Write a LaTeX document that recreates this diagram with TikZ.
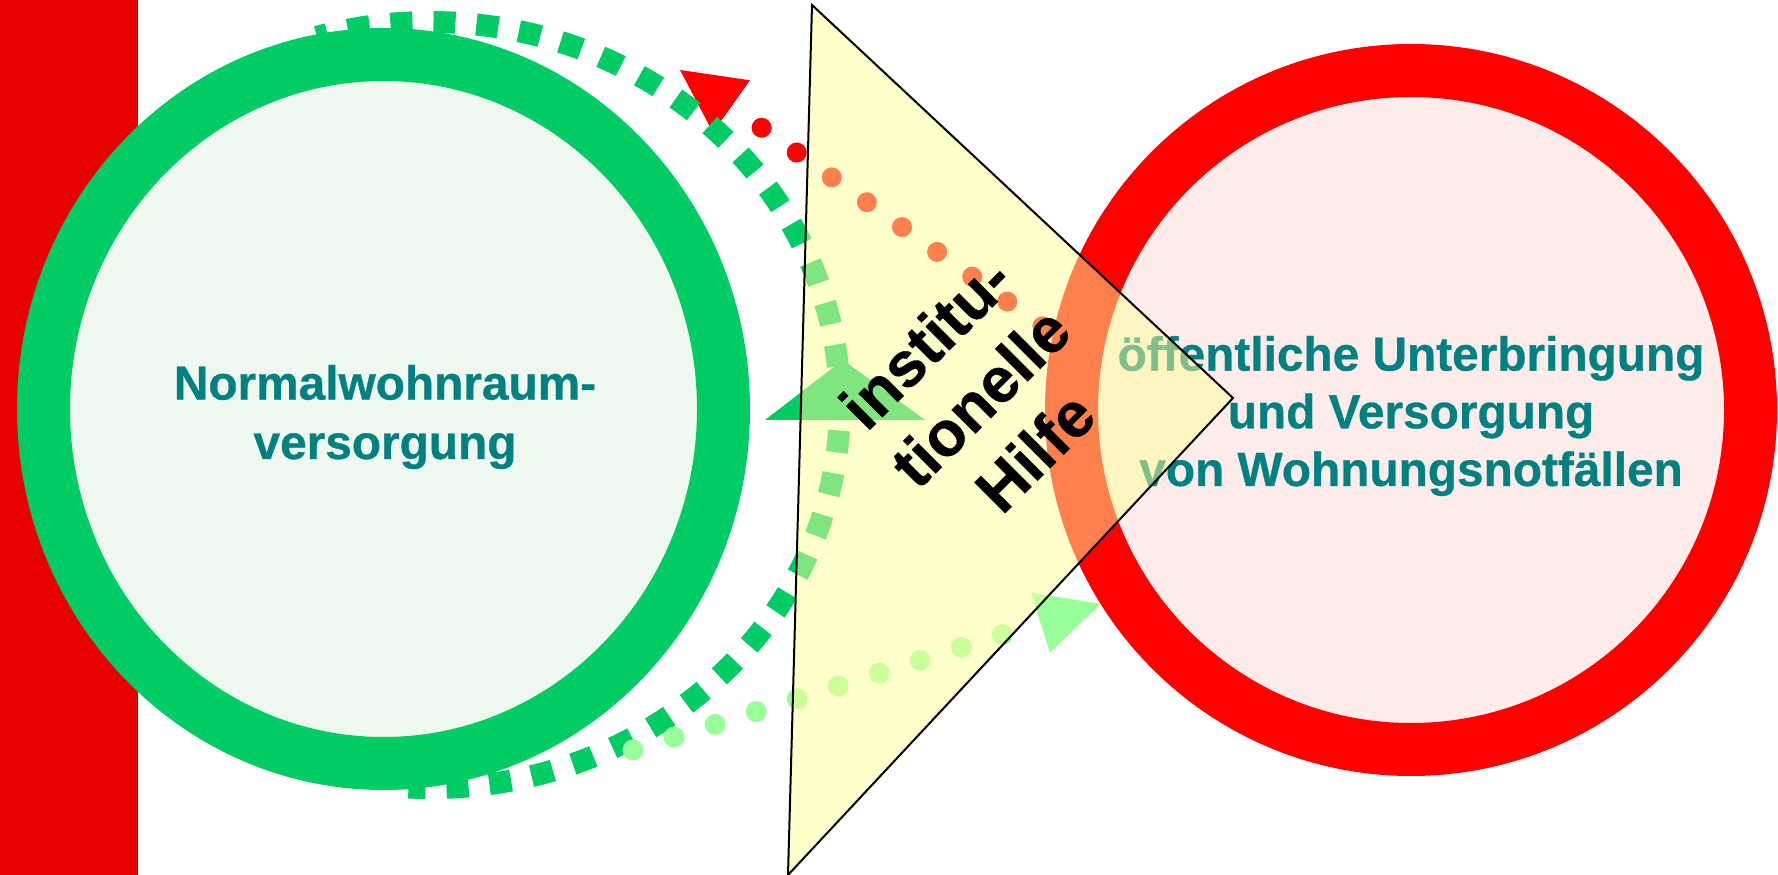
\documentclass[tikz,border=0pt]{standalone}
\usepackage{fontspec}
\setmainfont{Liberation Sans}[BoldFeatures={FakeBold=0.6}]
\usetikzlibrary{arrows.meta,shapes.geometric,positioning,calc}
\definecolor{balkenrot}{RGB}{232,0,0}
\definecolor{wohngruen}{RGB}{0,204,102}
\definecolor{wohnfill}{RGB}{238,248,238}
\definecolor{notrot}{RGB}{255,0,0}
\definecolor{notfill}{RGB}{253,236,234}
\definecolor{textteal}{RGB}{0,128,128}
\definecolor{hellgruen}{RGB}{153,255,153}
\definecolor{hilfegelb}{RGB}{255,255,153}

\begin{document}
\begin{tikzpicture}[
    % Stile fuer die Kreise
    ring/.style={inner sep=0pt, line width=0.53cm},
    wohnring/.style={ring, ellipse, draw=wohngruen, fill=wohnfill, minimum width=6.8cm, minimum height=7.09cm},
    notring/.style={ring, circle, draw=notrot, fill=notfill, minimum size=6.79cm},
    ringtext/.style={align=center, text=textteal, font=\bfseries\fontsize{13.6pt}{16.4pt}\selectfont},
    wohntext/.style={align=center, text=textteal, font=\bfseries\fontsize{13.6pt}{16.9pt}\selectfont},
    % Stile fuer die Pfeile
    kreislauf/.style={line width=0.22cm, draw=wohngruen, dash pattern=on 0.22cm off 0.21cm, dash phase=0.05cm},
    punkte/.style={line width=0.2cm, line cap=round, dash pattern=on 0pt off 0.43cm},
    rueckweg/.style={punkte, draw=notrot, dash phase=0.30cm, -{Triangle[length=0.63cm, width=0.64cm, line width=0pt]}},
    hinweg/.style={punkte, line width=0.21cm, draw=hellgruen, -{Triangle[length=0.63cm, width=0.63cm, line width=0pt]}},
    % Stil fuer das Dreieck
    hilfe/.style={fill=hilfegelb, fill opacity=0.5, draw=black, line width=0.02cm},
    hilfetext/.style={font=\bfseries\fontsize{18pt}{22pt}\selectfont, align=center, rotate=45}
]
\useasboundingbox (0,4.10) rectangle (17.78,-4.65);

% === ROTER BALKEN ===
\fill[balkenrot] (0,4.10) rectangle (1.38,-4.65);

% === KREISE ===
\node[wohnring] (normal) at (3.835,0.01) {};
\node[wohntext] (normaltitel) at (3.85,-0.07) {Normalwohnraum-\\versorgung};
\node[notring] (notfall) at (14.11,0) {};
\node[ringtext] (notfalltitel) at (14.11,-0.06) {öffentliche Unterbringung\\und Versorgung\\von Wohnungsnotfällen};

% === PFEILE ===
% Rueckweg in die Normalwohnraumversorgung
\coordinate (rueckspitze) at (6.80,3.40);
\draw[rueckweg] (notfall.168) -- (rueckspitze);

% Kreislauf um die Normalwohnraumversorgung
\coordinate (kreisanfang) at (4.085,-3.775);
\draw[kreislauf] (kreisanfang) arc[start angle=-93, end angle=106, x radius=4.1cm, y radius=3.83cm];
\coordinate (kreisspitze) at (8.43,0.50);
\fill[wohngruen] (kreisspitze) -- ++(-0.78,-0.60) -- ++(1.60,0) -- cycle;

% Weg in die oeffentliche Unterbringung
\coordinate (hinanfang) at (6.33,-3.40);
\draw[hinweg] (hinanfang) -- (notfall.212);

% === INSTITUTIONELLE HILFE ===
\coordinate (hilfeoben) at (8.12,4.05);
\coordinate (hilferechts) at (12.33,0.12);
\coordinate (hilfeunten) at (7.88,-4.65);
\draw[hilfe] (hilfeoben) -- (hilferechts) -- (hilfeunten) -- cycle;
\node[hilfetext] (hilfe) at (9.80,0.13) {institu-\\tionelle\\Hilfe};

\end{tikzpicture}
\end{document}
